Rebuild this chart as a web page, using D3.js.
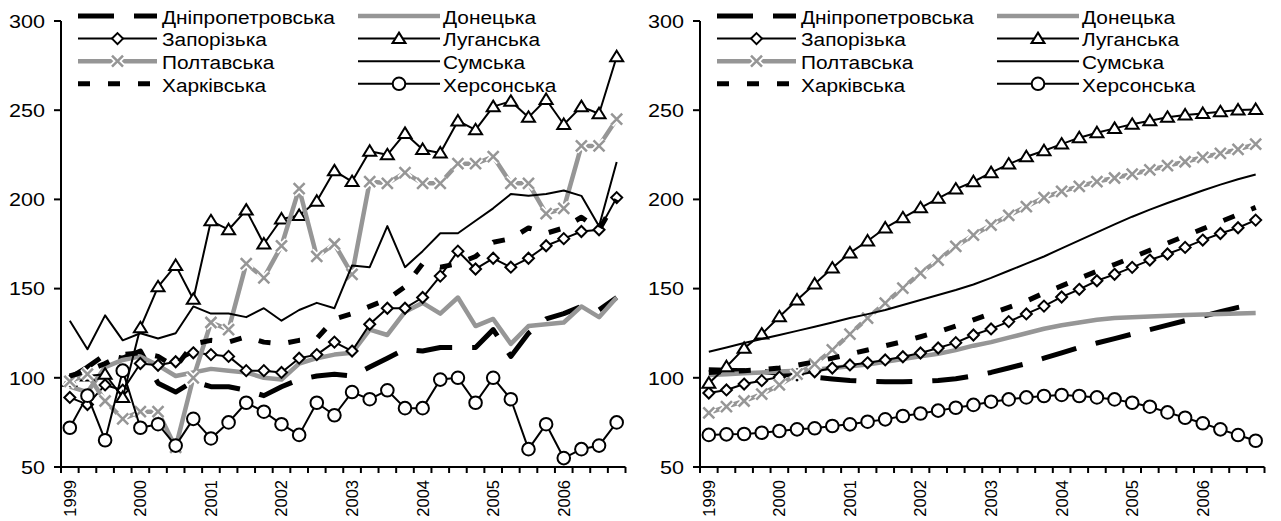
<!DOCTYPE html>
<html lang="uk">
<head>
<meta charset="UTF-8">
<title>Регіони</title>
<script src="https://d3js.org/d3.v7.min.js"></script>
<style>
  body { margin: 0; background: #fff; }
  text { font-family: "Liberation Sans", Arial, sans-serif; fill: #000; }
</style>
</head>
<body>
<svg id="chart" width="1281" height="521"></svg>
<script>

// quarters 1999-2006, year label on the first quarter
var years = ["1999", "2000", "2001", "2002", "2003", "2004", "2005", "2006"];
var quarters = [];
years.forEach(function (y) { ["I", "II", "III", "IV"].forEach(function (q) { quarters.push(y + " " + q); }); });

var regions = ["Дніпропетровська", "Донецька", "Запорізька", "Луганська",
               "Полтавська", "Сумська", "Харківська", "Херсонська"];

// left chart: quarterly values
var dnipRaw = [100, 106, 113, 111, 115, 97, 92, 98, 95, 95, 93, 90, 95, 99, 101, 102,
               101, 106, 111, 116, 115, 117, 117, 117, 127, 112, 125, 133, 136, 140, 138, 145];
var donRaw  = [95, 92, 106, 110, 112, 107, 101, 103, 105, 104, 103, 100, 99, 108, 111, 113,
               114, 127, 124, 137, 142, 136, 145, 129, 133, 119, 129, 130, 131, 140, 134, 145];
var zapRaw  = [89, 85, 96, 93, 108, 107, 109, 114, 113, 112, 104, 104, 103, 111, 113, 120,
               115, 130, 139, 139, 145, 157, 171, 161, 167, 162, 167, 174, 178, 182, 183, 201];
var luhRaw  = [98, 101, 102, 89, 128, 151, 163, 144, 188, 183, 194, 175, 189, 191, 199, 216,
               210, 227, 225, 237, 228, 226, 244, 239, 252, 255, 246, 256, 242, 252, 248, 280];
var poltRaw = [98, 102, 87, 77, 81, 81, 61, 100, 131, 127, 164, 156, 174, 206, 168, 175,
               158, 210, 209, 215, 209, 209, 220, 220, 224, 209, 209, 192, 195, 230, 230, 245];
var sumRaw  = [132, 116, 135, 121, 125, 122, 125, 140, 136, 136, 134, 139, 132, 138, 142, 139,
               163, 162, 185, 162, 171, 181, 181, 188, 195, 203, 202, 203, 205, 202, 185, 221];
var kharRaw = [101, 104, 108, 113, 114, 112, 106, 119, 121, 120, 123, 120, 119, 121, 122, 133,
               136, 140, 144, 151, 164, 162, 164, 168, 176, 178, 184, 181, 184, 190, 183, 200];
var kherRaw = [72, 90, 65, 104, 72, 74, 62, 77, 66, 75, 86, 81, 74, 68, 86, 79,
               92, 88, 93, 83, 83, 99, 100, 86, 100, 88, 60, 74, 55, 60, 62, 75];

// right chart: trends
var dnipTrend = [104.5, 104.3, 104, 103.5, 102.5, 101.5, 100.3, 99.3, 98.5, 98, 97.8, 97.8, 98, 98.5, 99.5, 101,
                 103, 105.5, 108, 111, 114, 117, 119.5, 122, 124.5, 127, 129.5, 132, 134.5, 137, 139.5, 141.5];
var donTrend  = [101.5, 102, 102.5, 103, 103.5, 104, 104.5, 105.5, 106.5, 107.5, 109, 110.5, 112, 113.5, 115.5, 118,
                 120, 122.5, 125, 127.5, 129.5, 131, 132.5, 133.5, 134, 134.3, 134.8, 135.2, 135.5, 135.8, 136, 136.3];
var zapTrend  = [91.5, 93.2, 96.5, 98.4, 100.4, 101.6, 103.4, 105.5, 107.2, 108.4, 110, 111.8, 113.9, 116.7, 119.7, 124,
                 127.4, 131.5, 135.8, 140.2, 145.3, 149.6, 154.4, 158, 161.9, 166, 169.4, 173.1, 177.2, 180.9, 184.1, 188.4];
var luhTrend  = [97, 106.2, 116.5, 124.5, 134.2, 143.6, 152.6, 161.5, 170, 176.7, 184, 189.7, 195.3, 200.6, 205.8, 209.9,
                 215, 219.8, 223.9, 227.3, 231, 234.6, 237.4, 239.8, 242.1, 244.1, 246, 247.3, 248.2, 249.1, 250.1, 250.4];
var poltTrend = [80.3, 83.8, 87, 90.9, 96, 102, 107.7, 115.6, 124.5, 133.5, 141.9, 150.3, 158.7, 166, 173.7, 180,
                 185.6, 191, 196, 201, 204.5, 207.3, 210, 212, 214.2, 216.5, 218.9, 221.1, 223.6, 225.8, 228, 231];
var sumTrend  = [114.6, 117, 119.5, 121.8, 124, 126.3, 128.6, 131, 133.5, 135.7, 138, 140.8, 143.6, 146.4, 149.2, 152.3,
                 156, 160, 164, 168, 172.5, 177, 181.5, 186, 190.3, 194.3, 198, 201.5, 205, 208.3, 211.3, 214];
var kharTrend = [103, 103.5, 104, 104.5, 105.5, 107, 109, 111, 113.3, 115.6, 118, 120.3, 123, 125.8, 129, 132.5,
                 136, 139.5, 143, 147.5, 151.5, 155.7, 159.7, 163.5, 167.5, 171.5, 175.5, 179.5, 183.5, 187.5, 191.5, 195.5];
var kherTrend = [68, 68.3, 68.5, 69.2, 70.2, 71.1, 71.7, 73, 73.9, 75.4, 76.7, 78.6, 80, 81.6, 83.2, 84.8,
                 86.6, 87.9, 89, 89.8, 90.4, 89.8, 89, 87.9, 86, 83.8, 80.6, 77.6, 74.5, 71.1, 67.9, 64.7];

var yTicks = [50, 100, 150, 200, 250, 300];

var gray = "#969696";
var styles = [
  { color: "#000", width: 5,   dash: "36,20" },
  { color: gray,   width: 4.5 },
  { color: "#000", width: 2,   marker: "diamond" },
  { color: "#000", width: 2,   marker: "triangle" },
  { color: gray,   width: 4.5, marker: "x" },
  { color: "#000", width: 2 },
  { color: "#000", width: 5,   dash: "12,18" },
  { color: "#000", width: 2,   marker: "circle" }
];

var shapes = {
  diamond:  "M0,-5.5L5.5,0L0,5.5L-5.5,0Z",
  triangle: "M0,-6L6.5,4.5L-6.5,4.5Z",
  x:        "M-5.5,-5.5L5.5,5.5M-5.5,5.5L5.5,-5.5"
};

var svg = d3.select("#chart");
var plotTop = 21, plotBottom = 467, plotWidth = 564.5;

var y = d3.scaleLinear().domain([50, 300]).range([plotBottom, plotTop]);

// the original uses a wide face: stretch text horizontally to match
function textScale(sample, size, target) {
  var t = svg.append("text").style("font-size", size + "px").text(sample);
  var w = t.node().getComputedTextLength();
  t.remove();
  return target / w;
}
var legendSx = textScale("Дніпропетровська", 19, 173);
var tickSx = textScale("300", 19, 36);

function drawMarker(g, kind, cx, cy) {
  var tr = "translate(" + cx + "," + cy + ")";
  if (kind === "circle") {
    g.append("circle").attr("cx", cx).attr("cy", cy).attr("r", 6.3)
      .attr("fill", "#fff").attr("stroke", "#000").attr("stroke-width", 2);
  } else if (kind === "x") {
    // white halo breaks the grey line around each cross
    g.append("path").attr("d", shapes.x).attr("transform", tr)
      .attr("fill", "none").attr("stroke", "#fff").attr("stroke-width", 6);
    g.append("path").attr("d", shapes.x).attr("transform", tr)
      .attr("fill", "none").attr("stroke", gray).attr("stroke-width", 2.5);
  } else {
    g.append("path").attr("d", shapes[kind]).attr("transform", tr)
      .attr("fill", "#fff").attr("stroke", "#000").attr("stroke-width", 2);
  }
}

function drawPanel(x0, series) {
  var g = svg.append("g");
  var x = d3.scaleBand().domain(quarters).range([x0, x0 + plotWidth]).padding(0);
  var cx = function (i) { return x(quarters[i]) + x.bandwidth() / 2; };

  // lines
  var line = d3.line().x(function (d, i) { return cx(i); }).y(function (d) { return y(d); });
  series.forEach(function (vals, k) {
    var s = styles[k];
    var sg = g.append("g");
    sg.append("path").datum(vals)
      .attr("d", line)
      .attr("fill", "none")
      .attr("stroke", s.color)
      .attr("stroke-width", s.width)
      .attr("stroke-linejoin", "round")
      .attr("stroke-dasharray", s.dash || null);
    if (s.marker) {
      vals.forEach(function (v, i) { drawMarker(sg, s.marker, cx(i), y(v)); });
    }
  });

  // y axis
  var ya = g.append("g");
  ya.append("line").attr("x1", x0).attr("x2", x0).attr("y1", plotTop).attr("y2", plotBottom)
    .attr("stroke", "#000").attr("stroke-width", 2);
  yTicks.forEach(function (t) {
    ya.append("line").attr("x1", x0 - 7).attr("x2", x0).attr("y1", y(t)).attr("y2", y(t))
      .attr("stroke", "#000").attr("stroke-width", 2);
    ya.append("text")
      .attr("transform", "translate(" + (x0 - 16) + "," + y(t) + ") scale(" + tickSx + ",1)")
      .attr("dy", "0.36em").attr("text-anchor", "end")
      .style("font-size", "19px").text(t);
  });

  // x axis with ticks between quarters
  var xa = g.append("g");
  xa.append("line").attr("x1", x0 - 1).attr("x2", x0 + plotWidth).attr("y1", plotBottom).attr("y2", plotBottom)
    .attr("stroke", "#000").attr("stroke-width", 2);
  quarters.concat([null]).forEach(function (q) {
    var tx = q ? x(q) : x0 + plotWidth;
    xa.append("line").attr("x1", tx).attr("x2", tx).attr("y1", plotBottom).attr("y2", plotBottom + 6)
      .attr("stroke", "#000").attr("stroke-width", 2);
  });
  years.forEach(function (yr) {
    var px = x(yr + " I") + x.bandwidth() / 2;
    xa.append("text")
      .attr("transform", "translate(" + px + "," + (plotBottom + 13) + ") rotate(-90)")
      .attr("text-anchor", "end").attr("dy", "0.36em")
      .style("font-size", "16.5px").text(yr);
  });

  // legend, two columns
  var lg = g.append("g");
  regions.forEach(function (name, k) {
    var s = styles[k];
    var col = k % 2, row = Math.floor(k / 2);
    var lx1 = x0 + (col ? 297 : 17), lx2 = x0 + (col ? 379 : 96);
    var ly = 16 + row * 22.6;
    lg.append("line").attr("x1", lx1).attr("x2", lx2).attr("y1", ly).attr("y2", ly)
      .attr("stroke", s.color).attr("stroke-width", s.width)
      .attr("stroke-dasharray", s.dash || null);
    if (s.marker) drawMarker(lg, s.marker, (lx1 + lx2) / 2, ly);
    lg.append("text")
      .attr("transform", "translate(" + (x0 + (col ? 382 : 101)) + "," + (ly + 1) + ") scale(" + legendSx + ",1)")
      .attr("dy", "0.36em")
      .style("font-size", "19px").text(name);
  });
}

drawPanel(61, [dnipRaw, donRaw, zapRaw, luhRaw, poltRaw, sumRaw, kharRaw, kherRaw]);
drawPanel(700, [dnipTrend, donTrend, zapTrend, luhTrend, poltTrend, sumTrend, kharTrend, kherTrend]);

</script>
</body>
</html>
